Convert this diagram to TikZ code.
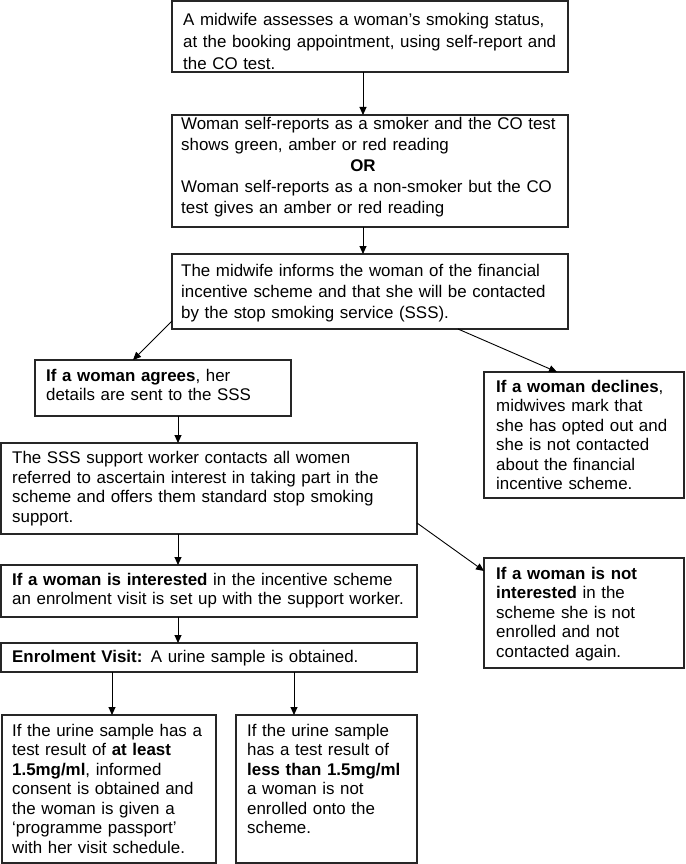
\documentclass[tikz,border=0pt]{standalone}
\usepackage{fontspec}
\setmainfont{Liberation Sans}
\usetikzlibrary{arrows.meta}
\newcommand\firstl{\rule{0pt}{15pt}}
\tikzset{
  box/.style={draw=black!85, line width=1.1pt, anchor=north west, inner sep=0pt, outer sep=0pt},
  arr/.style={draw=black, line width=0.9pt, -{Triangle[length=8pt,width=7pt]}},
  txt/.style={anchor=north west, inner sep=0pt, align=left, text width=#1, font=\fontsize{16.9}{19.5}\selectfont},
  ttxt/.style={anchor=north west, inner sep=0pt, align=left, text width=#1, font=\fontsize{16.9}{21}\selectfont},
}
\begin{document}
\begin{tikzpicture}[x=1pt,y=-1pt]
\useasboundingbox[fill=white] (0,0) rectangle (685,864);

% boxes
\node[box, minimum width=396pt, minimum height=71pt]  (b1)  at (172,1)   {};
\node[box, minimum width=396pt, minimum height=112pt] (b2)  at (172,115) {};
\node[box, minimum width=396pt, minimum height=75pt]  (b3)  at (172,254) {};
\node[box, minimum width=256pt, minimum height=56pt]  (agr) at (35,360)  {};
\node[box, minimum width=200pt, minimum height=126pt] (dec) at (484,372) {};
\node[box, minimum width=416pt, minimum height=91pt]  (sss) at (1,443)   {};
\node[box, minimum width=416pt, minimum height=52pt]  (int) at (1,565)   {};
\node[box, minimum width=200pt, minimum height=110pt] (ni)  at (484,558) {};
\node[box, minimum width=416pt, minimum height=29pt]  (enr) at (1,643)   {};
\node[box, minimum width=214pt, minimum height=148pt] (bl)  at (2,715)   {};
\node[box, minimum width=181pt, minimum height=148pt] (br)  at (236,715) {};

% texts
\node[anchor=north west, inner sep=0pt, align=left, text width=380pt, font=\fontsize{16.9}{22}\selectfont] (t1) at (183,10) {\firstl A midwife assesses a woman’s smoking status,\\at the booking appointment, using self-report and\\the CO test.};
\node[ttxt=380pt] (t2a) at (181,114) {\firstl Woman self-reports as a smoker and the CO test\\shows green, amber or red reading};
\node[anchor=base, inner sep=0pt, font=\fontsize{16.9}{21}\selectfont\bfseries] (t2or) at (363,171) {OR};
\node[ttxt=380pt] (t2b) at (181,177) {\firstl Woman self-reports as a non-smoker but the CO\\test gives an amber or red reading};
\node[ttxt=380pt] (t3) at (181,261) {\firstl The midwife informs the woman of the financial\\incentive scheme and that she will be contacted\\by the stop smoking service (SSS).};
\node[txt=240pt] (tagr) at (46,366) {\firstl\textbf{If a woman agrees}, her\\details are sent to the SSS};
\node[txt=185pt] (tdec) at (496,377) {\firstl\textbf{If a woman declines},\\midwives mark that\\she has opted out and\\she is not contacted\\about the financial\\incentive scheme.};
\node[txt=400pt] (tsss) at (12,448.5) {\firstl The SSS support worker contacts all women\\referred to ascertain interest in taking part in the\\scheme and offers them standard stop smoking\\support.};
\node[txt=400pt] (tint) at (12,570) {\firstl\textbf{If a woman is interested} in the incentive scheme\\an enrolment visit is set up with the support worker.};
\node[txt=185pt] (tni) at (496,564) {\firstl\textbf{If a woman is not}\\\textbf{interested} in the\\scheme she is not\\enrolled and not\\contacted again.};
\node[txt=400pt] (tenr) at (12,647) {\firstl\textbf{Enrolment Visit:} A urine sample is obtained.};
\node[txt=200pt] (tbl) at (12,721) {\firstl If the urine sample has a\\test result of \textbf{at least}\\\textbf{1.5mg/ml}, informed\\consent is obtained and\\the woman is given a\\‘programme passport’\\with her visit schedule.};
\node[txt=170pt] (tbr) at (247,721) {\firstl If the urine sample\\has a test result of\\\textbf{less than 1.5mg/ml}\\a woman is not\\enrolled onto the\\scheme.};

% guide coordinates for arrow columns
\coordinate (cx) at (363,0);
\coordinate (cl) at (178,0);
\coordinate (ca) at (112,0);
\coordinate (cb) at (294,0);

% connectors
\draw[arr] (b1.south -| cx) -- (b2.north -| cx);
\draw[arr] (b2.south -| cx) -- (b3.north -| cx);
\draw[arr] ([yshift=8pt]b3.south west) -- ([xshift=98pt]agr.north west);
\draw[arr] ([xshift=286pt]b3.south west) -- ([xshift=73pt]dec.north west);
\draw[arr] (agr.south -| cl) -- (sss.north -| cl);
\draw[arr] (sss.south -| cl) -- (int.north -| cl);
\draw[arr] ([yshift=11pt]sss.south east) -- ([yshift=-13pt]ni.north west);
\draw[arr] (int.south -| cl) -- (enr.north -| cl);
\draw[arr] (enr.south -| ca) -- (bl.north -| ca);
\draw[arr] (enr.south -| cb) -- (br.north -| cb);
\end{tikzpicture}
\end{document}
